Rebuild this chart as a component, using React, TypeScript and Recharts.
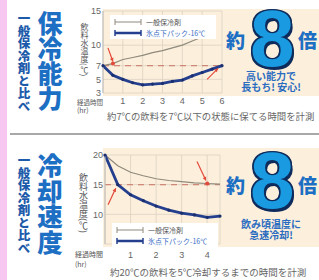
import { LineChart, Line, XAxis, YAxis, CartesianGrid, ReferenceLine, ReferenceDot, Legend } from 'recharts';

// 保冷能力 (keeping a 7℃ drink cold)
const keepHours = [0, 0.5, 1, 1.5, 2, 2.5, 3, 3.5, 4, 4.5, 5, 5.5, 6];
const keepPack = [7, 5.6, 5.0, 4.5, 4.2, 4.3, 4.4, 4.7, 4.9, 5.5, 6.0, 6.5, 7.0];
const keepGeneral = [7, 7.3, 7.9, 8.2, 8.5, 8.9, 9.2, 9.6, 10, 10.6, 11.2, null, null];
const keepTicksX = [1, 2, 3, 4, 5, 6];
const keepTicksY = [3, 5, 7, 10, 15];
const keepLimit = 7;

// 冷却速度 (cooling a 20℃ drink by 5℃)
const coolHours = [0, 0.5, 1, 1.5, 2, 2.5, 3, 3.5, 4, 4.5];
const coolPack = [20, 15, 13.3, 12.3, 11.4, 10.7, 10.2, 9.9, 9.5, 9.7];
const coolGeneral = [20, 18.2, 17.1, 16.5, 16.0, 15.7, 15.5, 15.3, 15.2, 15.1];
const coolTicksX = [1, 2, 3, 4];
const coolTicksY = [10, 15, 20];
const coolLimit = 15;

const seriesNames = ['一般保冷剤', '氷点下パック-16℃'];

const keepData = keepHours.map((t, i) => ({ t, general: keepGeneral[i], pack: keepPack[i] }));
const coolData = coolHours.map((t, i) => ({ t, general: coolGeneral[i], pack: coolPack[i] }));

const BLUE = '#1d6fc4';
const NAVY = '#233f8e';
const GRAY = '#8f8a7c';
const RED = '#e24a3b';
const JP = '"Noto Sans CJK JP", "Noto Sans", sans-serif';

const Arrow = (p: any) => {
  const { x1, y1, x2, y2 } = p;
  const a = Math.atan2(y2 - y1, x2 - x1);
  const s = 4;
  const pts = `${x2},${y2} ${x2 - s * Math.cos(a - 0.5)},${y2 - s * Math.sin(a - 0.5)} ${x2 - s * Math.cos(a + 0.5)},${y2 - s * Math.sin(a + 0.5)}`;
  return (
    <g>
      <line x1={x1} y1={y1} x2={x2} y2={y2} stroke={RED} strokeWidth={1.2} />
      <polygon points={pts} fill={RED} />
    </g>
  );
};

const LegendBox = ({ payload }: any) => (
  <div style={{ background: '#fff', padding: '1px 3px', width: 100, fontFamily: JP }}>
    {(payload || []).map((e: any, i: number) => (
      <div key={i} style={{ display: 'flex', alignItems: 'center', height: 11 }}>
        <svg width={30} height={8} style={{ marginRight: 3 }}>
          <line x1={2} y1={4} x2={28} y2={4} stroke={e.color} strokeWidth={i ? 2.5 : 1} />
          <line x1={2} y1={1} x2={2} y2={7} stroke={e.color} strokeWidth={i ? 1.5 : 1} />
          <line x1={28} y1={1} x2={28} y2={7} stroke={e.color} strokeWidth={i ? 1.5 : 1} />
        </svg>
        <span style={{ fontSize: 7, color: i ? '#3b6fc4' : '#555', whiteSpace: 'nowrap' }}>{e.value}</span>
      </div>
    ))}
  </div>
);

const tickStyle = { fontSize: 9, fill: '#666', fontFamily: '"Liberation Sans", sans-serif' };

const abs = (left: number, top: number, extra: any = {}) => ({ position: 'absolute' as const, left, top, ...extra });

const outline = (c: string, d: number) =>
  [[d, 0], [-d, 0], [0, d], [0, -d], [d, d], [-d, d], [d, -d], [-d, -d]].map(([x, y]) => `${x}px ${y}px 0 ${c}`).join(', ');

const Eight = ({ left, top }: { left: number; top: number }) => (
  <div style={abs(left, top, {
    fontSize: 80, lineHeight: '57px', height: 57, fontWeight: 700, color: '#1a9ae0',
    fontFamily: '"Liberation Sans", Arial, sans-serif',
    textShadow: outline('#0f2c5c', 1.5) + ', 2px 3px 0 #0f2c5c',
  })}>8</div>
);

const VText = ({ left, top, size, color, children }: any) => (
  <div style={abs(left, top, { writingMode: 'vertical-rl', fontSize: size, lineHeight: 1, fontWeight: 900, color, fontFamily: JP, letterSpacing: 0 })}>{children}</div>
);

const Small = ({ left, top, size, color = '#555', children, extra = {} }: any) => (
  <div style={abs(left, top, { fontSize: size, lineHeight: 1, color, fontFamily: JP, whiteSpace: 'nowrap', ...extra })}>{children}</div>
);

export default function App() {
  return (
    <div style={{ position: 'absolute', left: 0, top: 0, width: 319, height: 280, background: '#fff', overflow: 'hidden', fontFamily: JP }}>
      <div style={abs(0, 0, { width: 7, height: 280, background: '#f7c6f1' })} />
      <div style={abs(103, 9, { width: 216, height: 87, background: '#fcefdc' })} />
      <div style={abs(103, 148, { width: 216, height: 99, background: '#fcefdc' })} />
      <div style={abs(10, 133, { width: 309, height: 2, background: '#a8a8a8' })} />

      {/* top section */}
      <VText left={17} top={12} size={12.5} color="#1d5aaa">一般保冷剤と比べ</VText>
      <VText left={37} top={11} size={25} color={BLUE}>保冷能力</VText>
      <Small left={80} top={23} size={8} extra={{ writingMode: 'vertical-rl' }}>飲料水温度(℃)</Small>
      <Small left={77} top={99} size={6.5}>経過時間</Small>
      <Small left={77} top={107} size={7}>(hr)</Small>
      <Small left={107} top={112} size={9.4} color="#666">約7℃の飲料を7℃以下の状態に保てる時間を計測</Small>

      <div style={abs(70, 0)}>
        <LineChart width={160} height={125} data={keepData} margin={{ top: 11, right: 8, bottom: 0, left: 0 }}>
          <CartesianGrid stroke="#dcd2c2" strokeWidth={0.8} />
          <XAxis dataKey="t" type="number" domain={[0, 6]} ticks={keepTicksX} axisLine={false} tickLine={false}
            tickSize={0} tickMargin={5} height={32} tick={tickStyle} interval={0} />
          <YAxis type="number" domain={[3, 15]} ticks={keepTicksY} width={33} tickLine={false} tickSize={0}
            tickMargin={2} axisLine={{ stroke: '#bbb' }} tick={tickStyle} interval={0} />
          <ReferenceLine y={keepLimit} stroke="#d08878" strokeWidth={1.2} strokeDasharray="6 5" />
          <Legend layout="horizontal" verticalAlign="middle" align="center" content={LegendBox}
            wrapperStyle={{ left: 40, top: 15, width: 106 }} />
          <Line name={seriesNames[0]} dataKey="general" stroke={GRAY} strokeWidth={1.2} dot={false} isAnimationActive={false} />
          <Line name={seriesNames[1]} dataKey="pack" stroke={NAVY} strokeWidth={2.8}
            dot={{ r: 1.6, fill: '#1b2f6e', stroke: 'none' }} isAnimationActive={false} />
          <ReferenceLine segment={[{ x: 0.25, y: 9.6 }, { x: 0.5, y: 7.6 }]} shape={Arrow} />
          <ReferenceLine segment={[{ x: 5.25, y: 5.0 }, { x: 5.8, y: 6.6 }]} shape={Arrow} />
          <ReferenceDot x={0.5} y={7.3} r={2} fill={RED} stroke="none" />
        </LineChart>
      </div>

      <Small left={226} top={30} size={19} color={BLUE} extra={{ fontWeight: 900 }}>約</Small>
      <Eight left={250} top={10} />
      <Small left={298} top={30} size={19} color={BLUE} extra={{ fontWeight: 900 }}>倍</Small>
      <Small left={231} top={71} size={10} color="#2a6cc0" extra={{ width: 80, textAlign: 'center', fontWeight: 700 }}>高い能力で</Small>
      <Small left={231} top={82} size={10} color="#2a6cc0" extra={{ width: 80, textAlign: 'center', fontWeight: 700 }}>長もち! 安心!</Small>

      {/* bottom section */}
      <VText left={17} top={154} size={12.5} color="#1d5aaa">一般保冷剤と比べ</VText>
      <VText left={37} top={153} size={25.5} color={BLUE}>冷却速度</VText>
      <Small left={79} top={173} size={9} extra={{ writingMode: 'vertical-rl' }}>飲料水温度(℃)</Small>
      <Small left={75} top={251} size={7}>経過時間</Small>
      <Small left={75} top={261} size={7}>(hr)</Small>
      <Small left={110} top={268} size={9.5} color="#666">約20℃の飲料を5℃冷却するまでの時間を計測</Small>

      <div style={abs(70, 140)}>
        <LineChart width={160} height={130} data={coolData} margin={{ top: 15, right: 10, bottom: 0, left: 0 }}>
          <CartesianGrid stroke="#dcd2c2" strokeWidth={0.8} />
          <XAxis dataKey="t" type="number" domain={[0, 4.5]} ticks={coolTicksX} axisLine={false} tickLine={false}
            tickSize={0} tickMargin={8} height={26} tick={tickStyle} interval={0} />
          <YAxis type="number" domain={[5, 20]} ticks={coolTicksY} width={35} tickLine={false} tickSize={0}
            tickMargin={2} axisLine={{ stroke: '#bbb' }} tick={tickStyle} interval={0} />
          <ReferenceLine y={coolLimit} stroke="#d08878" strokeWidth={1.2} strokeDasharray="6 5" />
          <Legend layout="horizontal" verticalAlign="middle" align="center" content={LegendBox}
            wrapperStyle={{ left: 42, top: 83, width: 106 }} />
          <Line name={seriesNames[0]} dataKey="general" stroke={GRAY} strokeWidth={1.2} dot={false} isAnimationActive={false} />
          <Line name={seriesNames[1]} dataKey="pack" stroke={NAVY} strokeWidth={2.8}
            dot={{ r: 1.6, fill: '#1b2f6e', stroke: 'none' }} isAnimationActive={false} />
          <ReferenceLine segment={[{ x: 0.12, y: 11.6 }, { x: 0.42, y: 14.4 }]} shape={Arrow} />
          <ReferenceLine segment={[{ x: 3.6, y: 18.9 }, { x: 3.95, y: 15.7 }]} shape={Arrow} />
          <ReferenceDot x={4} y={15.2} r={2} fill={RED} stroke="none" />
        </LineChart>
      </div>

      <Small left={226} top={175} size={19} color={BLUE} extra={{ fontWeight: 900 }}>約</Small>
      <Eight left={250} top={152} />
      <Small left={298} top={175} size={19} color={BLUE} extra={{ fontWeight: 900 }}>倍</Small>
      <Small left={231} top={219} size={10} color="#2a6cc0" extra={{ width: 80, textAlign: 'center', fontWeight: 700 }}>飲み頃温度に</Small>
      <Small left={231} top={230} size={10} color="#2a6cc0" extra={{ width: 80, textAlign: 'center', fontWeight: 700 }}>急速冷却!</Small>
    </div>
  );
}
